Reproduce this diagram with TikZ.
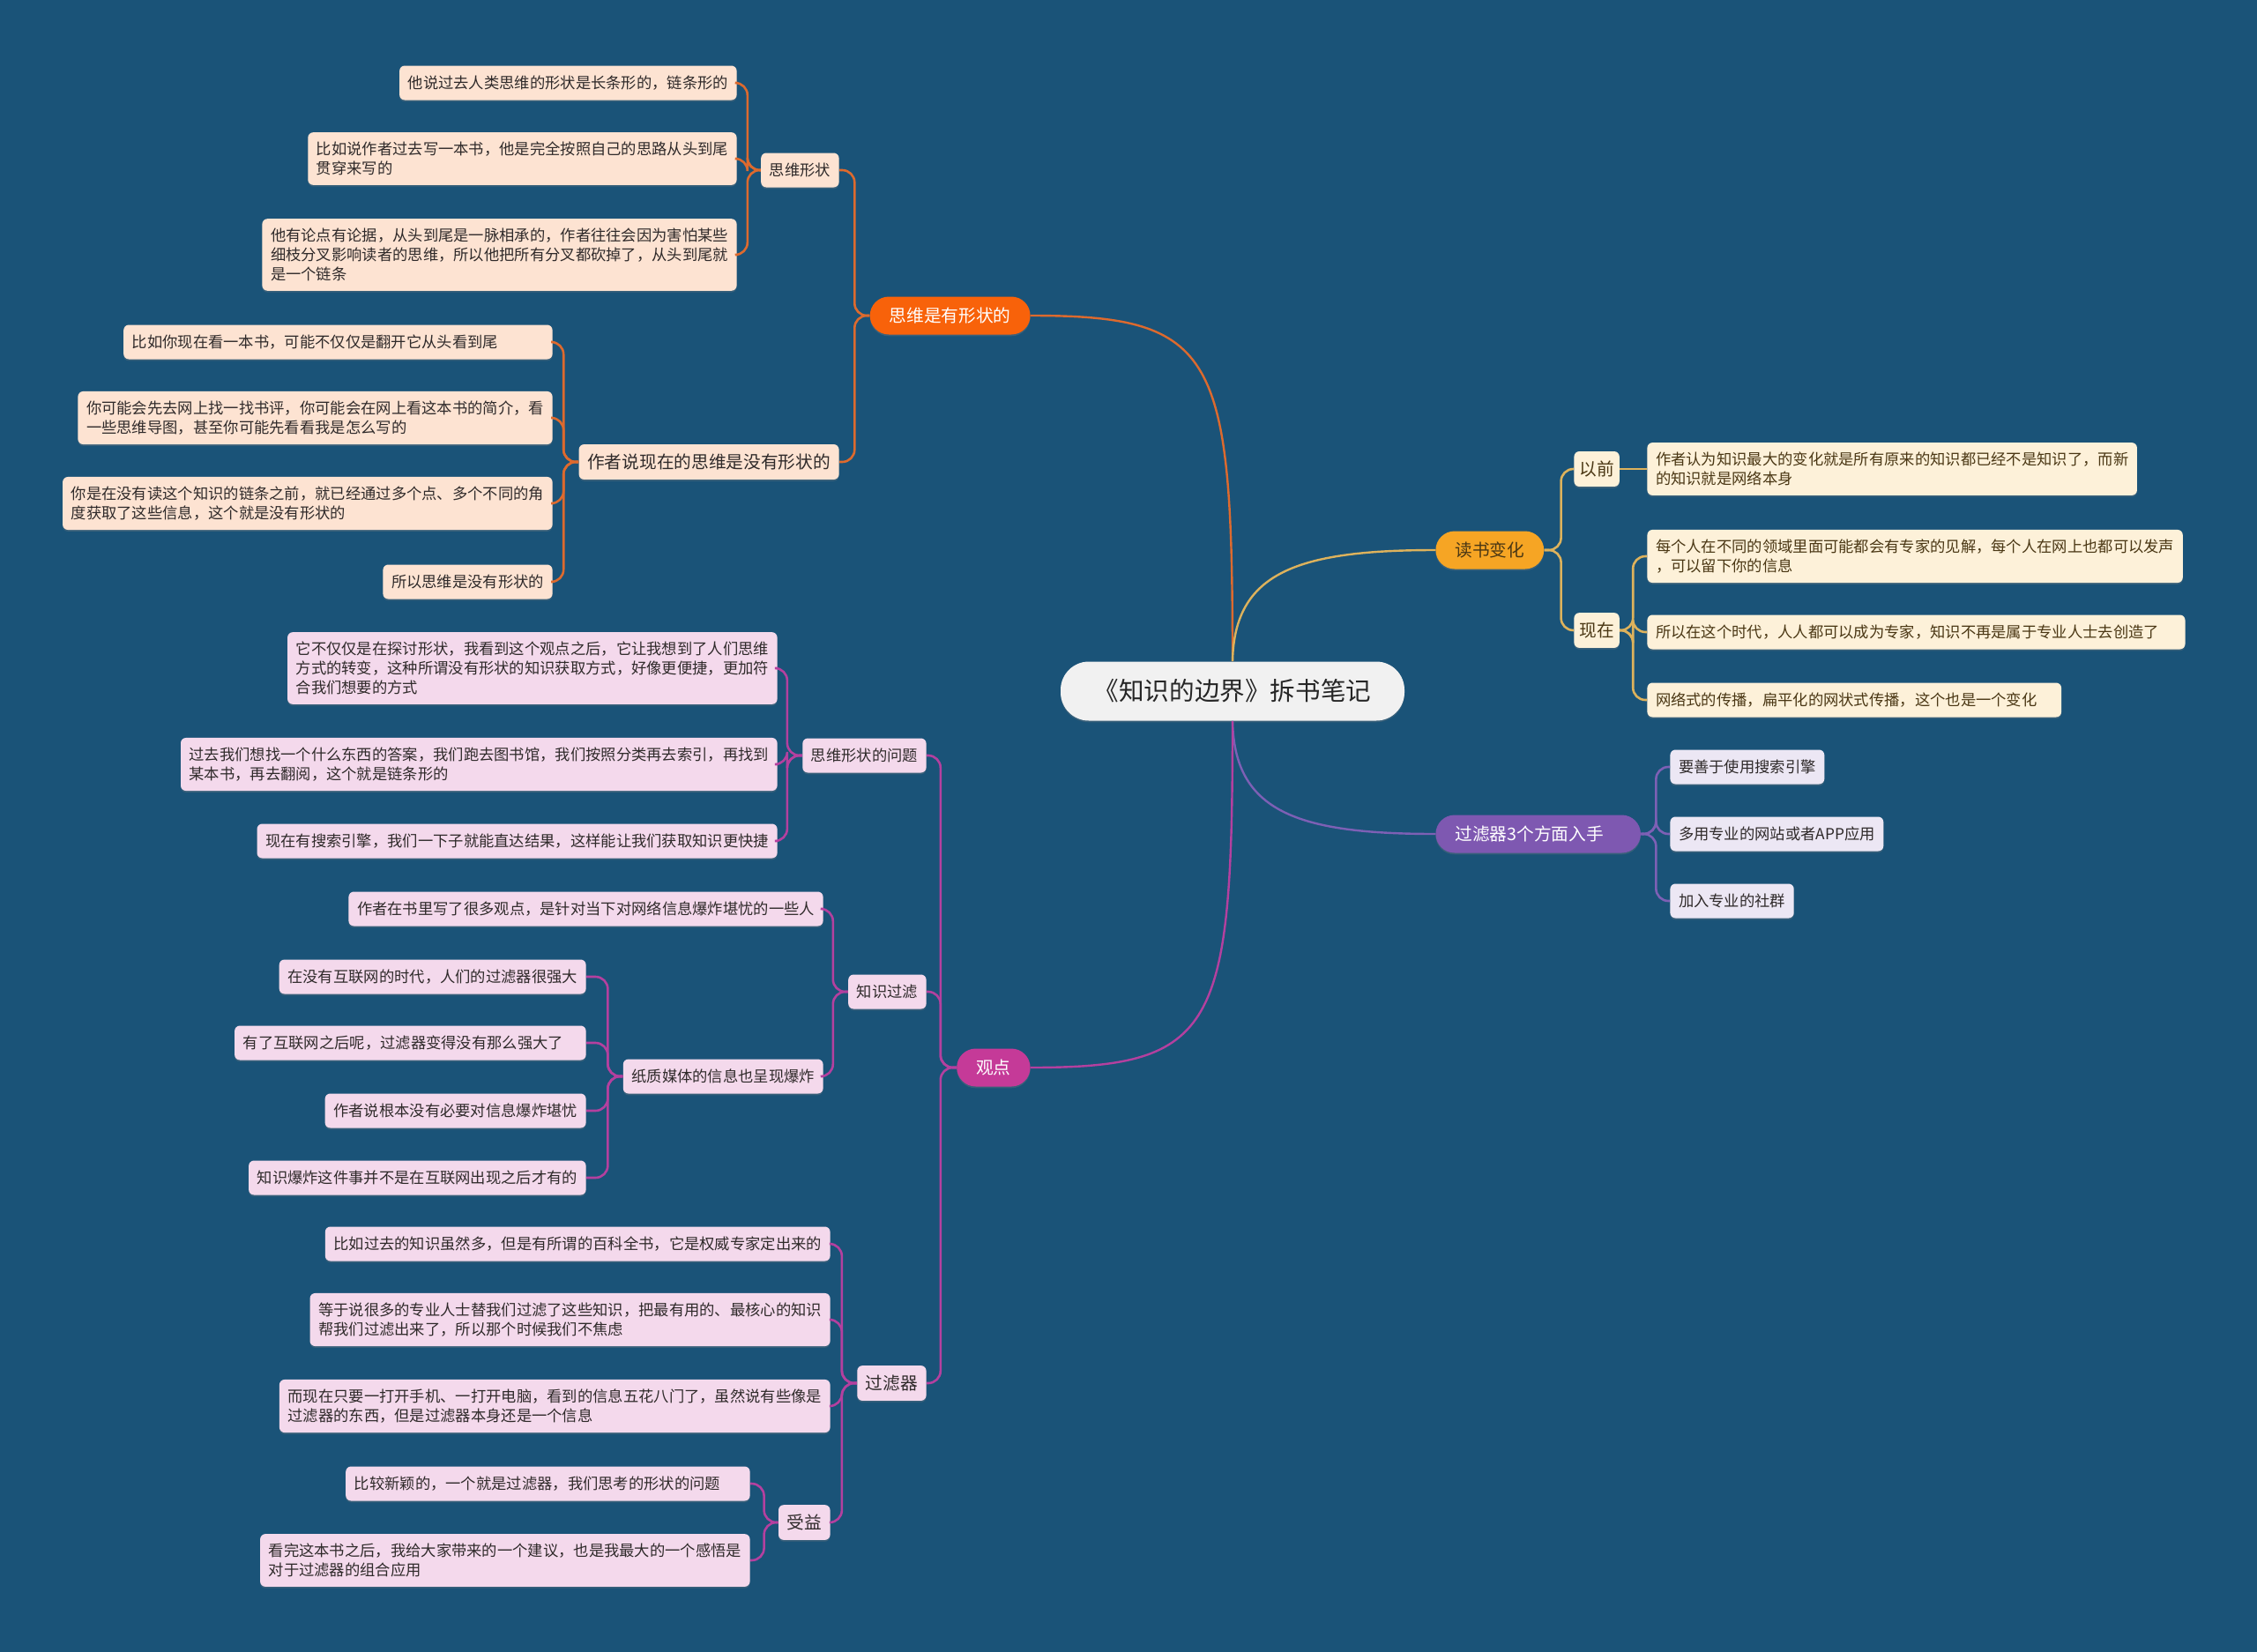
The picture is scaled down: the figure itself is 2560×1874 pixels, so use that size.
\documentclass[tikz,border=0pt]{standalone}
\usepackage{fontspec}
\setmainfont{Noto Sans CJK SC}
\usetikzlibrary{positioning, calc, shadows}

\definecolor{bgBlue}{HTML}{1A5378}
\definecolor{rootFill}{HTML}{F1F1F1}
\definecolor{orangeMain}{HTML}{F8620A}
\definecolor{orangeLine}{HTML}{DD6A2E}
\definecolor{orangeLeaf}{HTML}{FDE3D2}
\definecolor{pinkMain}{HTML}{C53A98}
\definecolor{pinkLine}{HTML}{B4409F}
\definecolor{pinkLeaf}{HTML}{F4D9EC}
\definecolor{amberMain}{HTML}{F6A524}
\definecolor{amberLine}{HTML}{DDB25C}
\definecolor{amberLeaf}{HTML}{FDF1D9}
\definecolor{purpleMain}{HTML}{7E58B1}
\definecolor{purpleLine}{HTML}{7D60B5}
\definecolor{purpleLeaf}{HTML}{ECE7F4}
\definecolor{darkText}{HTML}{2F2A2A}
\definecolor{brownText}{HTML}{4A3714}

\begin{document}
\begin{tikzpicture}[x=0.5pt, y=-0.5pt,
  every node/.style={font=\fontsize{8.65}{11}\selectfont, align=left, text=darkText},
  box/.style={rectangle, rounded corners=3pt, inner xsep=4.8pt, inner ysep=5.4pt, minimum height=19.5pt,
    drop shadow={shadow xshift=0pt, shadow yshift=-0.9pt, opacity=0.3}},
  big/.style={font=\fontsize{9.85}{12}\selectfont},
  branch/.style={rectangle, rounded corners=10.75pt, minimum height=21.5pt, inner xsep=11pt,
    font=\fontsize{9.85}{12}\selectfont, text=white,
    drop shadow={shadow xshift=0pt, shadow yshift=-0.9pt, opacity=0.3}},
  peach/.style={box, fill=orangeLeaf},
  pink/.style={box, fill=pinkLeaf},
  cream/.style={box, fill=amberLeaf, text=brownText},
  lilac/.style={box, fill=purpleLeaf},
  mainLink/.style={line width=1.2pt},
  linkOrange/.style={draw=orangeLine, line width=1.3pt, rounded corners=7pt},
  linkPink/.style={draw=pinkLine, line width=1.3pt, rounded corners=7pt},
  linkAmber/.style={draw=amberLine, line width=1.3pt, rounded corners=7pt},
  linkPurple/.style={draw=purpleLine, line width=1.3pt, rounded corners=7pt}]

\useasboundingbox (0,0) rectangle (2560,1874);
\fill[bgBlue] (0,0) rectangle (2560,1874);

\node (root) [rectangle, rounded corners=16pt, fill=rootFill, minimum width=195pt, minimum height=33.5pt, align=center,
  font=\fontsize{14.3}{17}\selectfont, text=black!85,
  drop shadow={shadow xshift=0pt, shadow yshift=-0.9pt, opacity=0.3}] at (1398,784) {《知识的边界》拆书笔记};

\node (shapeBranch) [branch, fill=orangeMain, anchor=east] at (1169,358) {思维是有形状的};
\node (thinkShape) [peach, anchor=east] at (952,193) {思维形状};
\node (noShapeNow) [peach, big, anchor=east] at (952,524) {作者说现在的思维是没有形状的};
\node (shapeLong) [peach, anchor=east] at (836,94) {他说过去人类思维的形状是长条形的，链条形的};
\node (shapeBook) [peach, anchor=east] at (836,180) {比如说作者过去写一本书，他是完全按照自己的思路从头到尾\\贯穿来写的};
\node (shapeChain) [peach, anchor=east] at (836,289) {他有论点有论据，从头到尾是一脉相承的，作者往往会因为害怕某些\\细枝分叉影响读者的思维，所以他把所有分叉都砍掉了，从头到尾就\\是一个链条};
\node (readNow) [peach, anchor=east] at (627,388) {比如你现在看一本书，可能不仅仅是翻开它从头看到尾\hspace*{26pt}};
\node (readReview) [peach, anchor=east] at (627,474) {你可能会先去网上找一找书评，你可能会在网上看这本书的简介，看\\一些思维导图，甚至你可能先看看我是怎么写的};
\node (readPoints) [peach, anchor=east] at (627,571) {你是在没有读这个知识的链条之前，就已经通过多个点、多个不同的角\\度获取了这些信息，这个就是没有形状的};
\node (noShapeEnd) [peach, anchor=east] at (627,660) {所以思维是没有形状的};

\node (viewBranch) [branch, fill=pinkMain, anchor=east] at (1169,1211) {观点};
\node (shapeIssue) [pink, anchor=east] at (1051,857) {思维形状的问题};
\node (knowFilter) [pink, anchor=east] at (1051,1125) {知识过滤};
\node (filterTool) [pink, big, anchor=east] at (1051,1569) {过滤器};
\node (issueShift) [pink, anchor=east] at (882,758) {它不仅仅是在探讨形状，我看到这个观点之后，它让我想到了人们思维\\方式的转变，这种所谓没有形状的知识获取方式，好像更便捷，更加符\\合我们想要的方式};
\node (issueLibrary) [pink, anchor=east] at (882,867) {过去我们想找一个什么东西的答案，我们跑去图书馆，我们按照分类再去索引，再找到\\某本书，再去翻阅，这个就是链条形的};
\node (issueSearch) [pink, anchor=east] at (882,954) {现在有搜索引擎，我们一下子就能直达结果，这样能让我们获取知识更快捷};
\node (filterWorry) [pink, anchor=east] at (934,1031) {作者在书里写了很多观点，是针对当下对网络信息爆炸堪忧的一些人};
\node (paperBoom) [pink, anchor=east] at (934,1221) {纸质媒体的信息也呈现爆炸};
\node (boomStrong) [pink, anchor=east] at (665,1108) {在没有互联网的时代，人们的过滤器很强大};
\node (boomWeak) [pink, anchor=east] at (665,1183) {有了互联网之后呢，过滤器变得没有那么强大了\hspace*{8pt}};
\node (boomCalm) [pink, anchor=east] at (665,1260) {作者说根本没有必要对信息爆炸堪忧};
\node (boomOld) [pink, anchor=east] at (665,1336) {知识爆炸这件事并不是在互联网出现之后才有的};
\node (toolBook) [pink, anchor=east] at (942,1411) {比如过去的知识虽然多，但是有所谓的百科全书，它是权威专家定出来的};
\node (toolExpert) [pink, anchor=east] at (942,1497) {等于说很多的专业人士替我们过滤了这些知识，把最有用的、最核心的知识\\帮我们过滤出来了，所以那个时候我们不焦虑};
\node (toolPhone) [pink, anchor=east] at (942,1595) {而现在只要一打开手机、一打开电脑，看到的信息五花八门了，虽然说有些像是\\过滤器的东西，但是过滤器本身还是一个信息};
\node (benefit) [pink, big, anchor=east] at (942,1727) {受益};
\node (benefitNew) [pink, anchor=east] at (851,1683) {比较新颖的，一个就是过滤器，我们思考的形状的问题\hspace*{12pt}};
\node (benefitAdvice) [pink, anchor=east] at (851,1770) {看完这本书之后，我给大家带来的一个建议，也是我最大的一个感悟是\\对于过滤器的组合应用};

\node (readBranch) [branch, fill=amberMain, text=brownText, anchor=west] at (1628,624) {读书变化};
\node (before) [cream, big, inner xsep=3pt, anchor=west] at (1785,532) {以前};
\node (now) [cream, big, inner xsep=3pt, anchor=west] at (1785,715) {现在};
\node (beforeNet) [cream, anchor=west] at (1868,532) {作者认为知识最大的变化就是所有原来的知识都已经不是知识了，而新\\的知识就是网络本身};
\node (nowVoice) [cream, anchor=west] at (1868,631) {每个人在不同的领域里面可能都会有专家的见解，每个人在网上也都可以发声\\，可以留下你的信息};
\node (nowExpert) [cream, anchor=west] at (1868,717) {所以在这个时代，人人都可以成为专家，知识不再是属于专业人士去创造了\hspace*{10pt}};
\node (nowFlat) [cream, anchor=west] at (1868,794) {网络式的传播，扁平化的网状式传播，这个也是一个变化\hspace*{9pt}};

\node (filterBranch) [branch, fill=purpleMain, anchor=west, minimum width=116pt] at (1628,946) {过滤器3个方面入手\hspace*{10pt}};
\node (useSearch) [lilac, anchor=west] at (1894,870) {要善于使用搜索引擎};
\node (useSite) [lilac, anchor=west] at (1894,946) {多用专业的网站或者APP应用};
\node (joinGroup) [lilac, anchor=west] at (1894,1022) {加入专业的社群};

\draw[mainLink, orangeLine] (root.north) .. controls (1398,400) and (1380,358) .. (shapeBranch.east);
\draw[mainLink, amberLine] (root.north) .. controls (1400,650) and (1470,624) .. (readBranch.west);
\draw[mainLink, purpleLine] (root.south) .. controls (1400,920) and (1470,946) .. (filterBranch.west);
\draw[mainLink, pinkLine] (root.south) .. controls (1398,1169) and (1380,1211) .. (viewBranch.east);

\draw[linkOrange] (shapeBranch.west) -- ++(-17,0) |- (thinkShape.east);
\draw[linkOrange] (shapeBranch.west) -- ++(-17,0) |- (noShapeNow.east);
\draw[linkOrange] (thinkShape.west) -- ++(-15,0) |- (shapeLong.east);
\draw[linkOrange] (thinkShape.west) -- ++(-15,0) |- (shapeBook.east);
\draw[linkOrange] (thinkShape.west) -- ++(-15,0) |- (shapeChain.east);
\draw[linkOrange] (noShapeNow.west) -- ++(-17,0) |- (readNow.east);
\draw[linkOrange] (noShapeNow.west) -- ++(-17,0) |- (readReview.east);
\draw[linkOrange] (noShapeNow.west) -- ++(-17,0) |- (readPoints.east);
\draw[linkOrange] (noShapeNow.west) -- ++(-17,0) |- (noShapeEnd.east);

\draw[linkPink] (viewBranch.west) -- ++(-18,0) |- (shapeIssue.east);
\draw[linkPink] (viewBranch.west) -- ++(-18,0) |- (knowFilter.east);
\draw[linkPink] (viewBranch.west) -- ++(-18,0) |- (filterTool.east);
\draw[linkPink] (shapeIssue.west) -- ++(-17,0) |- (issueShift.east);
\draw[linkPink] (shapeIssue.west) -- ++(-17,0) |- (issueLibrary.east);
\draw[linkPink] (shapeIssue.west) -- ++(-17,0) |- (issueSearch.east);
\draw[linkPink] (knowFilter.west) -- ++(-17,0) |- (filterWorry.east);
\draw[linkPink] (knowFilter.west) -- ++(-17,0) |- (paperBoom.east);
\draw[linkPink] (paperBoom.west) -- ++(-17,0) |- (boomStrong.east);
\draw[linkPink] (paperBoom.west) -- ++(-17,0) |- (boomWeak.east);
\draw[linkPink] (paperBoom.west) -- ++(-17,0) |- (boomCalm.east);
\draw[linkPink] (paperBoom.west) -- ++(-17,0) |- (boomOld.east);
\draw[linkPink] (filterTool.west) -- ++(-17,0) |- (toolBook.east);
\draw[linkPink] (filterTool.west) -- ++(-17,0) |- (toolExpert.east);
\draw[linkPink] (filterTool.west) -- ++(-17,0) |- (toolPhone.east);
\draw[linkPink] (filterTool.west) -- ++(-17,0) |- (benefit.east);
\draw[linkPink] (benefit.west) -- ++(-16,0) |- (benefitNew.east);
\draw[linkPink] (benefit.west) -- ++(-16,0) |- (benefitAdvice.east);

\draw[linkAmber] (readBranch.east) -- ++(19,0) |- (before.west);
\draw[linkAmber] (readBranch.east) -- ++(19,0) |- (now.west);
\draw[linkAmber] (before.east) -- (beforeNet.west);
\draw[linkAmber] (now.east) -- ++(15,0) |- (nowVoice.west);
\draw[linkAmber] (now.east) -- ++(15,0) |- (nowExpert.west);
\draw[linkAmber] (now.east) -- ++(15,0) |- (nowFlat.west);

\draw[linkPurple] (filterBranch.east) -- ++(17,0) |- (useSearch.west);
\draw[linkPurple] (filterBranch.east) -- ++(17,0) |- (useSite.west);
\draw[linkPurple] (filterBranch.east) -- ++(17,0) |- (joinGroup.west);
\end{tikzpicture}
\end{document}
